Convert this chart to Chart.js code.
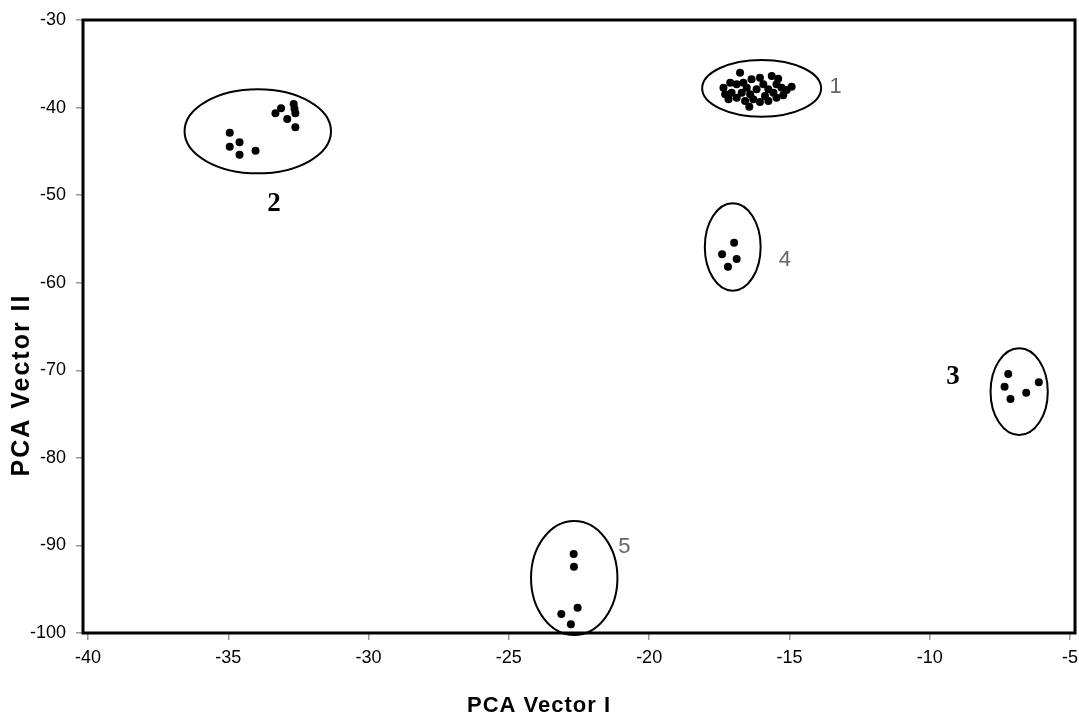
<!DOCTYPE html>
<html>
<head>
<meta charset="utf-8">
<script src="https://cdn.jsdelivr.net/npm/chart.js@4.4.1/dist/chart.umd.min.js"></script>
<style>
  html, body { margin: 0; padding: 0; background: #fff; }
  #wrap { width: 1079px; height: 717px; position: relative; }
</style>
</head>
<body>
<div id="wrap"><canvas id="c"></canvas></div>
<script>
// ---- Data (PCA Vector I, PCA Vector II) ----
const cluster1 = [
  [-16.76,-36.02],[-16.05,-36.59],[-15.63,-36.39],[-15.40,-36.70],[-16.35,-36.77],
  [-17.35,-37.73],[-17.11,-37.16],[-16.88,-37.34],[-16.64,-37.16],[-17.29,-38.49],
  [-17.06,-38.30],[-17.17,-39.06],[-16.88,-38.87],[-16.70,-38.30],[-16.52,-37.73],
  [-16.40,-38.49],[-16.58,-39.25],[-16.29,-39.06],[-16.17,-37.92],[-15.93,-37.34],
  [-15.75,-37.92],[-15.46,-37.34],[-15.28,-37.73],[-15.57,-38.30],[-15.10,-37.99],
  [-14.92,-37.61],[-15.87,-38.68],[-16.05,-39.36],[-15.75,-39.25],[-15.46,-38.87],
  [-15.22,-38.60],[-16.43,-39.90]
];
const cluster2 = [
  [-34.95,-42.87],[-34.95,-44.47],[-34.60,-43.97],[-34.60,-45.38],[-34.03,-44.93],
  [-33.32,-40.65],[-33.12,-40.08],[-32.67,-39.59],[-32.64,-40.13],[-32.61,-40.65],
  [-32.90,-41.31],[-32.61,-42.25]
];
const cluster3 = [
  [-7.20,-70.42],[-7.33,-71.87],[-7.12,-73.28],[-6.56,-72.56],[-6.11,-71.37]
];
const cluster4 = [
  [-16.97,-55.43],[-17.40,-56.76],[-16.88,-57.29],[-17.19,-58.17]
];
const cluster5 = [
  [-22.69,-90.98],[-22.68,-92.43],[-22.55,-97.11],[-23.13,-97.83],[-22.79,-99.01]
];

// Cluster ellipses (centre and half-widths, data units)
const ellipseCX = [-15.99, -33.95, -6.81, -17.02, -22.67];
const ellipseCY = [-37.80, -42.71, -72.44, -55.92, -93.72];
const ellipseRX = [2.12, 2.61, 1.02, 0.995, 1.54];
const ellipseRY = [3.24, 4.80, 4.95, 4.99, 6.51];

// Cluster labels
const labelText = ['1', '2', '3', '4', '5'];
const labelX = [-13.35, -33.37, -9.17, -15.16, -20.88];
const labelY = [-37.65, -51.01, -70.82, -57.41, -90.12];
const labelBold = [false, true, true, false, false];

// Tick labels and axis titles
const xTicks = [-40, -35, -30, -25, -20, -15, -10, -5];
const yTicks = [-100, -90, -80, -70, -60, -50, -40, -30];
const xTitle = 'PCA Vector I';
const yTitle = 'PCA Vector II';

const toPts = a => a.map(p => ({ x: p[0], y: p[1] }));
const clusters = [cluster1, cluster2, cluster3, cluster4, cluster5];

const overlayPlugin = {
  id: 'overlay',
  afterDatasetsDraw(chart) {
    const { ctx, scales: { x, y } } = chart;
    ctx.save();
    ctx.strokeStyle = '#000';
    ctx.lineWidth = 2;
    for (let i = 0; i < ellipseCX.length; i++) {
      const cx = x.getPixelForValue(ellipseCX[i]);
      const cy = y.getPixelForValue(ellipseCY[i]);
      const rx = Math.abs(x.getPixelForValue(ellipseCX[i] + ellipseRX[i]) - cx);
      const ry = Math.abs(y.getPixelForValue(ellipseCY[i] + ellipseRY[i]) - cy);
      ctx.beginPath();
      ctx.ellipse(cx, cy, rx, ry, 0, 0, Math.PI * 2);
      ctx.stroke();
    }
    ctx.textAlign = 'center';
    ctx.textBaseline = 'middle';
    for (let i = 0; i < labelText.length; i++) {
      if (labelBold[i]) {
        ctx.font = 'bold 27px "Liberation Serif", "Times New Roman", serif';
        ctx.fillStyle = '#000';
      } else {
        ctx.font = '22px "Liberation Sans", Arial, sans-serif';
        ctx.fillStyle = '#666';
      }
      ctx.fillText(labelText[i], x.getPixelForValue(labelX[i]), y.getPixelForValue(labelY[i]));
    }
    ctx.restore();
  },
  afterDraw(chart) {
    const { ctx, chartArea: a } = chart;
    ctx.save();
    ctx.strokeStyle = '#000';
    ctx.lineWidth = 3;
    ctx.strokeRect(a.left, a.top, a.right - a.left, a.bottom - a.top);
    // axis titles
    ctx.fillStyle = '#000';
    ctx.textAlign = 'center';
    ctx.textBaseline = 'middle';
    ctx.font = 'bold 22px "Liberation Sans", Arial, sans-serif';
    ctx.letterSpacing = '1px';
    ctx.fillText(xTitle, 539, 706);
    ctx.translate(22, 385);
    ctx.rotate(-Math.PI / 2);
    ctx.font = 'bold 25px "Liberation Sans", Arial, sans-serif';
    ctx.letterSpacing = '2px';
    ctx.fillText(yTitle, 0, 0);
    ctx.restore();
  }
};

new Chart(document.getElementById('c'), {
  type: 'scatter',
  data: {
    datasets: clusters.map((c, i) => ({
      label: 'Cluster ' + (i + 1),
      data: toPts(c),
      backgroundColor: '#000',
      borderColor: '#000',
      pointStyle: 'circle',
      pointRadius: 4,
      pointBorderWidth: 0
    }))
  },
  options: {
    responsive: true,
    maintainAspectRatio: false,
    devicePixelRatio: 1,
    animation: false,
    layout: { padding: { top: 20, right: 0, left: 0, bottom: 0 } },
    plugins: { legend: { display: false }, tooltip: { enabled: false } },
    scales: {
      x: {
        type: 'linear',
        min: -40.18,
        max: -4.82,
        afterBuildTicks: s => { s.ticks = xTicks.map(v => ({ value: v })); },
        afterFit: s => { s.height = 84; s.paddingLeft = 0; s.paddingRight = 0; },
        grid: { drawOnChartArea: false, drawTicks: true, tickLength: 7, color: '#999', lineWidth: 1.5 },
        border: { display: false },
        ticks: { color: '#000', padding: 7, font: { family: '"Liberation Sans", Arial, sans-serif', size: 18 } },
        title: { display: false }
      },
      y: {
        type: 'linear',
        min: -100,
        max: -30,
        afterBuildTicks: s => { s.ticks = yTicks.map(v => ({ value: v })); },
        afterFit: s => { s.width = 83; s.paddingTop = 0; s.paddingBottom = 0; },
        grid: { drawOnChartArea: false, drawTicks: true, tickLength: 7, color: '#999', lineWidth: 1.5 },
        border: { display: false },
        ticks: { color: '#000', padding: 10, font: { family: '"Liberation Sans", Arial, sans-serif', size: 18 } },
        title: { display: false }
      }
    }
  },
  plugins: [overlayPlugin]
});
</script>
</body>
</html>
